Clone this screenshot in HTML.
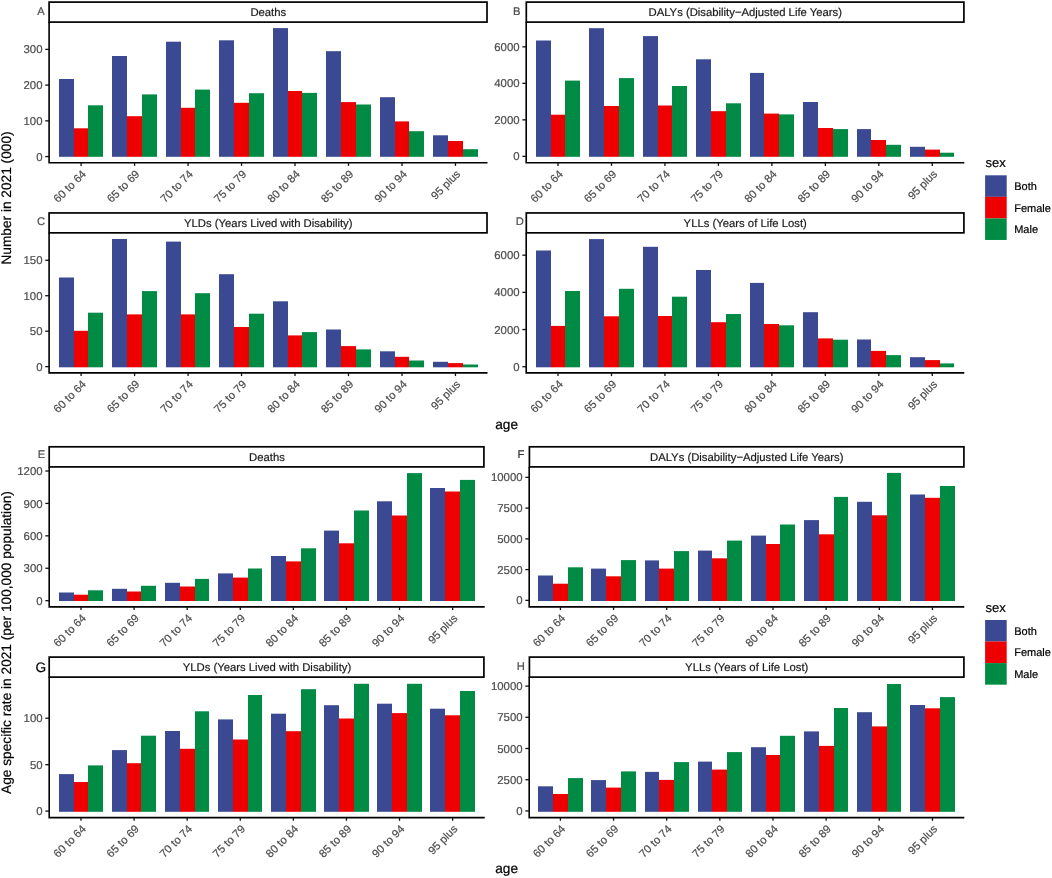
<!DOCTYPE html>
<html><head><meta charset="utf-8"><title>Age-specific burden chart</title>
<style>
html,body{margin:0;padding:0;background:#fff;}
body{width:1052px;height:878px;overflow:hidden;}
svg{display:block;will-change:transform;text-rendering:geometricPrecision;font-family:"Liberation Sans",sans-serif;}
</style></head><body>
<svg width="1052" height="878" viewBox="0 0 1052 878">
<rect width="1052" height="878" fill="#fff"/>
<rect x="59" y="79" width="15" height="77.8" fill="#3B4992"/>
<rect x="74" y="128.3" width="14" height="28.5" fill="#EE0000"/>
<rect x="88" y="105.3" width="15" height="51.5" fill="#008B45"/>
<rect x="112" y="56" width="15" height="100.8" fill="#3B4992"/>
<rect x="127" y="116.2" width="15" height="40.6" fill="#EE0000"/>
<rect x="142" y="94.4" width="15" height="62.4" fill="#008B45"/>
<rect x="166" y="41.7" width="15" height="115.1" fill="#3B4992"/>
<rect x="181" y="107.8" width="14" height="49" fill="#EE0000"/>
<rect x="195" y="89.6" width="15" height="67.2" fill="#008B45"/>
<rect x="219" y="40.3" width="15" height="116.5" fill="#3B4992"/>
<rect x="234" y="102.8" width="15" height="54" fill="#EE0000"/>
<rect x="249" y="93.2" width="15" height="63.6" fill="#008B45"/>
<rect x="273" y="28.1" width="15" height="128.7" fill="#3B4992"/>
<rect x="288" y="91" width="14" height="65.8" fill="#EE0000"/>
<rect x="302" y="92.9" width="15" height="63.9" fill="#008B45"/>
<rect x="326" y="51.2" width="15" height="105.6" fill="#3B4992"/>
<rect x="341" y="102.1" width="15" height="54.7" fill="#EE0000"/>
<rect x="356" y="104.5" width="15" height="52.3" fill="#008B45"/>
<rect x="380" y="97.2" width="15" height="59.6" fill="#3B4992"/>
<rect x="395" y="121.4" width="14" height="35.4" fill="#EE0000"/>
<rect x="409" y="131.2" width="15" height="25.6" fill="#008B45"/>
<rect x="433" y="135.3" width="15" height="21.5" fill="#3B4992"/>
<rect x="448" y="141" width="15" height="15.8" fill="#EE0000"/>
<rect x="463" y="149.2" width="15" height="7.6" fill="#008B45"/>
<rect x="49.1" y="2.1" width="437.9" height="20" fill="#fff" stroke="#000" stroke-width="1.7"/>
<text x="268.3" y="15.85" font-size="11.3" fill="#1A1A1A" stroke="#1A1A1A" stroke-width="0.2" text-anchor="middle">Deaths</text>
<text x="41.05" y="15.4" font-size="11.2" fill="#4D4D4D" stroke="#4D4D4D" stroke-width="0.2" text-anchor="middle">A</text>
<path d="M49.1 22.1V162.7H487.5" fill="none" stroke="#000" stroke-width="1.6" stroke-linecap="butt" stroke-linejoin="miter"/>
<path d="M45.25 156.57H49.1" stroke="#111" stroke-width="1.3"/>
<text x="42.5" y="160.65" font-size="11.4" fill="#4D4D4D" stroke="#4D4D4D" stroke-width="0.2" text-anchor="end">0</text>
<path d="M45.25 120.84H49.1" stroke="#111" stroke-width="1.3"/>
<text x="42.5" y="124.92" font-size="11.4" fill="#4D4D4D" stroke="#4D4D4D" stroke-width="0.2" text-anchor="end">100</text>
<path d="M45.25 85.11H49.1" stroke="#111" stroke-width="1.3"/>
<text x="42.5" y="89.19" font-size="11.4" fill="#4D4D4D" stroke="#4D4D4D" stroke-width="0.2" text-anchor="end">200</text>
<path d="M45.25 49.38H49.1" stroke="#111" stroke-width="1.3"/>
<text x="42.5" y="53.46" font-size="11.4" fill="#4D4D4D" stroke="#4D4D4D" stroke-width="0.2" text-anchor="end">300</text>
<path d="M81.1 162.7V165.9" stroke="#111" stroke-width="1.3"/>
<text transform="translate(86.7 174.75) rotate(-45)" font-size="11.2" fill="#4D4D4D" stroke="#4D4D4D" stroke-width="0.2" text-anchor="end">60 to 64</text>
<path d="M134.58 162.7V165.9" stroke="#111" stroke-width="1.3"/>
<text transform="translate(140.18 174.75) rotate(-45)" font-size="11.2" fill="#4D4D4D" stroke="#4D4D4D" stroke-width="0.2" text-anchor="end">65 to 69</text>
<path d="M188.06 162.7V165.9" stroke="#111" stroke-width="1.3"/>
<text transform="translate(193.66 174.75) rotate(-45)" font-size="11.2" fill="#4D4D4D" stroke="#4D4D4D" stroke-width="0.2" text-anchor="end">70 to 74</text>
<path d="M241.54 162.7V165.9" stroke="#111" stroke-width="1.3"/>
<text transform="translate(247.14 174.75) rotate(-45)" font-size="11.2" fill="#4D4D4D" stroke="#4D4D4D" stroke-width="0.2" text-anchor="end">75 to 79</text>
<path d="M295.02 162.7V165.9" stroke="#111" stroke-width="1.3"/>
<text transform="translate(300.62 174.75) rotate(-45)" font-size="11.2" fill="#4D4D4D" stroke="#4D4D4D" stroke-width="0.2" text-anchor="end">80 to 84</text>
<path d="M348.5 162.7V165.9" stroke="#111" stroke-width="1.3"/>
<text transform="translate(354.1 174.75) rotate(-45)" font-size="11.2" fill="#4D4D4D" stroke="#4D4D4D" stroke-width="0.2" text-anchor="end">85 to 89</text>
<path d="M401.98 162.7V165.9" stroke="#111" stroke-width="1.3"/>
<text transform="translate(407.58 174.75) rotate(-45)" font-size="11.2" fill="#4D4D4D" stroke="#4D4D4D" stroke-width="0.2" text-anchor="end">90 to 94</text>
<path d="M455.46 162.7V165.9" stroke="#111" stroke-width="1.3"/>
<text transform="translate(461.06 174.75) rotate(-45)" font-size="11.2" fill="#4D4D4D" stroke="#4D4D4D" stroke-width="0.2" text-anchor="end">95 plus</text>
<rect x="536" y="40.5" width="15" height="116.3" fill="#3B4992"/>
<rect x="551" y="114.7" width="14" height="42.1" fill="#EE0000"/>
<rect x="565" y="80.6" width="15" height="76.2" fill="#008B45"/>
<rect x="589" y="28.2" width="15" height="128.6" fill="#3B4992"/>
<rect x="604" y="106" width="15" height="50.8" fill="#EE0000"/>
<rect x="619" y="78.1" width="15" height="78.7" fill="#008B45"/>
<rect x="643" y="36.1" width="15" height="120.7" fill="#3B4992"/>
<rect x="658" y="105.5" width="14" height="51.3" fill="#EE0000"/>
<rect x="672" y="86" width="15" height="70.8" fill="#008B45"/>
<rect x="696" y="59.3" width="15" height="97.5" fill="#3B4992"/>
<rect x="711" y="111.2" width="15" height="45.6" fill="#EE0000"/>
<rect x="726" y="103.3" width="15" height="53.5" fill="#008B45"/>
<rect x="750" y="72.9" width="14" height="83.9" fill="#3B4992"/>
<rect x="764" y="113.6" width="15" height="43.2" fill="#EE0000"/>
<rect x="779" y="114.4" width="15" height="42.4" fill="#008B45"/>
<rect x="803" y="102" width="15" height="54.8" fill="#3B4992"/>
<rect x="818" y="128" width="15" height="28.8" fill="#EE0000"/>
<rect x="833" y="129.1" width="15" height="27.7" fill="#008B45"/>
<rect x="857" y="129.1" width="14" height="27.7" fill="#3B4992"/>
<rect x="871" y="140" width="15" height="16.8" fill="#EE0000"/>
<rect x="886" y="144.8" width="15" height="12" fill="#008B45"/>
<rect x="910" y="146.8" width="15" height="10" fill="#3B4992"/>
<rect x="925" y="149.6" width="15" height="7.2" fill="#EE0000"/>
<rect x="940" y="152.7" width="14" height="4.1" fill="#008B45"/>
<rect x="526.3" y="2.1" width="437.6" height="20" fill="#fff" stroke="#000" stroke-width="1.7"/>
<text x="745.25" y="15.85" font-size="11.3" fill="#1A1A1A" stroke="#1A1A1A" stroke-width="0.2" text-anchor="middle">DALYs (Disability−Adjusted Life Years)</text>
<text x="516.7" y="14.6" font-size="11.2" fill="#4D4D4D" stroke="#4D4D4D" stroke-width="0.2" text-anchor="middle">B</text>
<path d="M526.2 22.1V162.7H964.3" fill="none" stroke="#000" stroke-width="1.6" stroke-linecap="butt" stroke-linejoin="miter"/>
<path d="M522.35 156.38H526.2" stroke="#111" stroke-width="1.3"/>
<text x="519.6" y="160.46" font-size="11.4" fill="#4D4D4D" stroke="#4D4D4D" stroke-width="0.2" text-anchor="end">0</text>
<path d="M522.35 119.86H526.2" stroke="#111" stroke-width="1.3"/>
<text x="519.6" y="123.94" font-size="11.4" fill="#4D4D4D" stroke="#4D4D4D" stroke-width="0.2" text-anchor="end">2000</text>
<path d="M522.35 83.34H526.2" stroke="#111" stroke-width="1.3"/>
<text x="519.6" y="87.42" font-size="11.4" fill="#4D4D4D" stroke="#4D4D4D" stroke-width="0.2" text-anchor="end">4000</text>
<path d="M522.35 46.82H526.2" stroke="#111" stroke-width="1.3"/>
<text x="519.6" y="50.9" font-size="11.4" fill="#4D4D4D" stroke="#4D4D4D" stroke-width="0.2" text-anchor="end">6000</text>
<path d="M558 162.7V165.9" stroke="#111" stroke-width="1.3"/>
<text transform="translate(563.6 174.75) rotate(-45)" font-size="11.2" fill="#4D4D4D" stroke="#4D4D4D" stroke-width="0.2" text-anchor="end">60 to 64</text>
<path d="M611.47 162.7V165.9" stroke="#111" stroke-width="1.3"/>
<text transform="translate(617.07 174.75) rotate(-45)" font-size="11.2" fill="#4D4D4D" stroke="#4D4D4D" stroke-width="0.2" text-anchor="end">65 to 69</text>
<path d="M664.94 162.7V165.9" stroke="#111" stroke-width="1.3"/>
<text transform="translate(670.54 174.75) rotate(-45)" font-size="11.2" fill="#4D4D4D" stroke="#4D4D4D" stroke-width="0.2" text-anchor="end">70 to 74</text>
<path d="M718.41 162.7V165.9" stroke="#111" stroke-width="1.3"/>
<text transform="translate(724.01 174.75) rotate(-45)" font-size="11.2" fill="#4D4D4D" stroke="#4D4D4D" stroke-width="0.2" text-anchor="end">75 to 79</text>
<path d="M771.88 162.7V165.9" stroke="#111" stroke-width="1.3"/>
<text transform="translate(777.48 174.75) rotate(-45)" font-size="11.2" fill="#4D4D4D" stroke="#4D4D4D" stroke-width="0.2" text-anchor="end">80 to 84</text>
<path d="M825.35 162.7V165.9" stroke="#111" stroke-width="1.3"/>
<text transform="translate(830.95 174.75) rotate(-45)" font-size="11.2" fill="#4D4D4D" stroke="#4D4D4D" stroke-width="0.2" text-anchor="end">85 to 89</text>
<path d="M878.82 162.7V165.9" stroke="#111" stroke-width="1.3"/>
<text transform="translate(884.42 174.75) rotate(-45)" font-size="11.2" fill="#4D4D4D" stroke="#4D4D4D" stroke-width="0.2" text-anchor="end">90 to 94</text>
<path d="M932.29 162.7V165.9" stroke="#111" stroke-width="1.3"/>
<text transform="translate(937.89 174.75) rotate(-45)" font-size="11.2" fill="#4D4D4D" stroke="#4D4D4D" stroke-width="0.2" text-anchor="end">95 plus</text>
<rect x="59" y="277.5" width="15" height="89.8" fill="#3B4992"/>
<rect x="74" y="330.8" width="14" height="36.5" fill="#EE0000"/>
<rect x="88" y="312.7" width="15" height="54.6" fill="#008B45"/>
<rect x="112" y="239" width="15" height="128.3" fill="#3B4992"/>
<rect x="127" y="314.4" width="15" height="52.9" fill="#EE0000"/>
<rect x="142" y="291.1" width="15" height="76.2" fill="#008B45"/>
<rect x="166" y="241.6" width="15" height="125.7" fill="#3B4992"/>
<rect x="181" y="314.4" width="14" height="52.9" fill="#EE0000"/>
<rect x="195" y="293.2" width="15" height="74.1" fill="#008B45"/>
<rect x="219" y="274.2" width="15" height="93.1" fill="#3B4992"/>
<rect x="234" y="327" width="15" height="40.3" fill="#EE0000"/>
<rect x="249" y="313.7" width="15" height="53.6" fill="#008B45"/>
<rect x="273" y="301.3" width="15" height="66" fill="#3B4992"/>
<rect x="288" y="335.4" width="14" height="31.9" fill="#EE0000"/>
<rect x="302" y="332.1" width="15" height="35.2" fill="#008B45"/>
<rect x="326" y="329.5" width="15" height="37.8" fill="#3B4992"/>
<rect x="341" y="346.1" width="15" height="21.2" fill="#EE0000"/>
<rect x="356" y="349.4" width="15" height="17.9" fill="#008B45"/>
<rect x="380" y="351.3" width="15" height="16" fill="#3B4992"/>
<rect x="395" y="356.8" width="14" height="10.5" fill="#EE0000"/>
<rect x="409" y="360.5" width="15" height="6.8" fill="#008B45"/>
<rect x="433" y="361.8" width="15" height="5.5" fill="#3B4992"/>
<rect x="448" y="363.1" width="15" height="4.2" fill="#EE0000"/>
<rect x="463" y="364.5" width="15" height="2.8" fill="#008B45"/>
<rect x="49.1" y="212.95" width="437.9" height="19.9" fill="#fff" stroke="#000" stroke-width="1.7"/>
<text x="268.3" y="226.7" font-size="11.3" fill="#1A1A1A" stroke="#1A1A1A" stroke-width="0.2" text-anchor="middle">YLDs (Years Lived with Disability)</text>
<text x="40.95" y="225.1" font-size="11.2" fill="#4D4D4D" stroke="#4D4D4D" stroke-width="0.2" text-anchor="middle">C</text>
<path d="M49.1 232.85V372.9H487.5" fill="none" stroke="#000" stroke-width="1.6" stroke-linecap="butt" stroke-linejoin="miter"/>
<path d="M45.25 366.64H49.1" stroke="#111" stroke-width="1.3"/>
<text x="42.5" y="370.72" font-size="11.4" fill="#4D4D4D" stroke="#4D4D4D" stroke-width="0.2" text-anchor="end">0</text>
<path d="M45.25 331.18H49.1" stroke="#111" stroke-width="1.3"/>
<text x="42.5" y="335.26" font-size="11.4" fill="#4D4D4D" stroke="#4D4D4D" stroke-width="0.2" text-anchor="end">50</text>
<path d="M45.25 295.72H49.1" stroke="#111" stroke-width="1.3"/>
<text x="42.5" y="299.8" font-size="11.4" fill="#4D4D4D" stroke="#4D4D4D" stroke-width="0.2" text-anchor="end">100</text>
<path d="M45.25 260.26H49.1" stroke="#111" stroke-width="1.3"/>
<text x="42.5" y="264.34" font-size="11.4" fill="#4D4D4D" stroke="#4D4D4D" stroke-width="0.2" text-anchor="end">150</text>
<path d="M81.1 372.9V376.1" stroke="#111" stroke-width="1.3"/>
<text transform="translate(86.7 384.95) rotate(-45)" font-size="11.2" fill="#4D4D4D" stroke="#4D4D4D" stroke-width="0.2" text-anchor="end">60 to 64</text>
<path d="M134.58 372.9V376.1" stroke="#111" stroke-width="1.3"/>
<text transform="translate(140.18 384.95) rotate(-45)" font-size="11.2" fill="#4D4D4D" stroke="#4D4D4D" stroke-width="0.2" text-anchor="end">65 to 69</text>
<path d="M188.06 372.9V376.1" stroke="#111" stroke-width="1.3"/>
<text transform="translate(193.66 384.95) rotate(-45)" font-size="11.2" fill="#4D4D4D" stroke="#4D4D4D" stroke-width="0.2" text-anchor="end">70 to 74</text>
<path d="M241.54 372.9V376.1" stroke="#111" stroke-width="1.3"/>
<text transform="translate(247.14 384.95) rotate(-45)" font-size="11.2" fill="#4D4D4D" stroke="#4D4D4D" stroke-width="0.2" text-anchor="end">75 to 79</text>
<path d="M295.02 372.9V376.1" stroke="#111" stroke-width="1.3"/>
<text transform="translate(300.62 384.95) rotate(-45)" font-size="11.2" fill="#4D4D4D" stroke="#4D4D4D" stroke-width="0.2" text-anchor="end">80 to 84</text>
<path d="M348.5 372.9V376.1" stroke="#111" stroke-width="1.3"/>
<text transform="translate(354.1 384.95) rotate(-45)" font-size="11.2" fill="#4D4D4D" stroke="#4D4D4D" stroke-width="0.2" text-anchor="end">85 to 89</text>
<path d="M401.98 372.9V376.1" stroke="#111" stroke-width="1.3"/>
<text transform="translate(407.58 384.95) rotate(-45)" font-size="11.2" fill="#4D4D4D" stroke="#4D4D4D" stroke-width="0.2" text-anchor="end">90 to 94</text>
<path d="M455.46 372.9V376.1" stroke="#111" stroke-width="1.3"/>
<text transform="translate(461.06 384.95) rotate(-45)" font-size="11.2" fill="#4D4D4D" stroke="#4D4D4D" stroke-width="0.2" text-anchor="end">95 plus</text>
<rect x="536" y="250.5" width="15" height="116.8" fill="#3B4992"/>
<rect x="551" y="325.9" width="14" height="41.4" fill="#EE0000"/>
<rect x="565" y="291" width="15" height="76.3" fill="#008B45"/>
<rect x="589" y="239.1" width="15" height="128.2" fill="#3B4992"/>
<rect x="604" y="316.3" width="15" height="51" fill="#EE0000"/>
<rect x="619" y="288.8" width="15" height="78.5" fill="#008B45"/>
<rect x="643" y="246.8" width="15" height="120.5" fill="#3B4992"/>
<rect x="658" y="316" width="14" height="51.3" fill="#EE0000"/>
<rect x="672" y="296.7" width="15" height="70.6" fill="#008B45"/>
<rect x="696" y="270" width="15" height="97.3" fill="#3B4992"/>
<rect x="711" y="322.2" width="15" height="45.1" fill="#EE0000"/>
<rect x="726" y="314" width="15" height="53.3" fill="#008B45"/>
<rect x="750" y="282.9" width="14" height="84.4" fill="#3B4992"/>
<rect x="764" y="324" width="15" height="43.3" fill="#EE0000"/>
<rect x="779" y="325.3" width="15" height="42" fill="#008B45"/>
<rect x="803" y="312.2" width="15" height="55.1" fill="#3B4992"/>
<rect x="818" y="338.4" width="15" height="28.9" fill="#EE0000"/>
<rect x="833" y="339.7" width="15" height="27.6" fill="#008B45"/>
<rect x="857" y="339.5" width="14" height="27.8" fill="#3B4992"/>
<rect x="871" y="350.9" width="15" height="16.4" fill="#EE0000"/>
<rect x="886" y="355.1" width="15" height="12.2" fill="#008B45"/>
<rect x="910" y="357.2" width="15" height="10.1" fill="#3B4992"/>
<rect x="925" y="360.1" width="15" height="7.2" fill="#EE0000"/>
<rect x="940" y="363.4" width="14" height="3.9" fill="#008B45"/>
<rect x="526.3" y="212.95" width="437.6" height="19.9" fill="#fff" stroke="#000" stroke-width="1.7"/>
<text x="745.25" y="226.7" font-size="11.3" fill="#1A1A1A" stroke="#1A1A1A" stroke-width="0.2" text-anchor="middle">YLLs (Years of Life Lost)</text>
<text x="519.7" y="225.4" font-size="11.2" fill="#4D4D4D" stroke="#4D4D4D" stroke-width="0.2" text-anchor="middle">D</text>
<path d="M526.2 232.85V372.9H964.3" fill="none" stroke="#000" stroke-width="1.6" stroke-linecap="butt" stroke-linejoin="miter"/>
<path d="M522.35 366.72H526.2" stroke="#111" stroke-width="1.3"/>
<text x="519.6" y="370.8" font-size="11.4" fill="#4D4D4D" stroke="#4D4D4D" stroke-width="0.2" text-anchor="end">0</text>
<path d="M522.35 329.54H526.2" stroke="#111" stroke-width="1.3"/>
<text x="519.6" y="333.62" font-size="11.4" fill="#4D4D4D" stroke="#4D4D4D" stroke-width="0.2" text-anchor="end">2000</text>
<path d="M522.35 292.36H526.2" stroke="#111" stroke-width="1.3"/>
<text x="519.6" y="296.44" font-size="11.4" fill="#4D4D4D" stroke="#4D4D4D" stroke-width="0.2" text-anchor="end">4000</text>
<path d="M522.35 255.18H526.2" stroke="#111" stroke-width="1.3"/>
<text x="519.6" y="259.26" font-size="11.4" fill="#4D4D4D" stroke="#4D4D4D" stroke-width="0.2" text-anchor="end">6000</text>
<path d="M558 372.9V376.1" stroke="#111" stroke-width="1.3"/>
<text transform="translate(563.6 384.95) rotate(-45)" font-size="11.2" fill="#4D4D4D" stroke="#4D4D4D" stroke-width="0.2" text-anchor="end">60 to 64</text>
<path d="M611.47 372.9V376.1" stroke="#111" stroke-width="1.3"/>
<text transform="translate(617.07 384.95) rotate(-45)" font-size="11.2" fill="#4D4D4D" stroke="#4D4D4D" stroke-width="0.2" text-anchor="end">65 to 69</text>
<path d="M664.94 372.9V376.1" stroke="#111" stroke-width="1.3"/>
<text transform="translate(670.54 384.95) rotate(-45)" font-size="11.2" fill="#4D4D4D" stroke="#4D4D4D" stroke-width="0.2" text-anchor="end">70 to 74</text>
<path d="M718.41 372.9V376.1" stroke="#111" stroke-width="1.3"/>
<text transform="translate(724.01 384.95) rotate(-45)" font-size="11.2" fill="#4D4D4D" stroke="#4D4D4D" stroke-width="0.2" text-anchor="end">75 to 79</text>
<path d="M771.88 372.9V376.1" stroke="#111" stroke-width="1.3"/>
<text transform="translate(777.48 384.95) rotate(-45)" font-size="11.2" fill="#4D4D4D" stroke="#4D4D4D" stroke-width="0.2" text-anchor="end">80 to 84</text>
<path d="M825.35 372.9V376.1" stroke="#111" stroke-width="1.3"/>
<text transform="translate(830.95 384.95) rotate(-45)" font-size="11.2" fill="#4D4D4D" stroke="#4D4D4D" stroke-width="0.2" text-anchor="end">85 to 89</text>
<path d="M878.82 372.9V376.1" stroke="#111" stroke-width="1.3"/>
<text transform="translate(884.42 384.95) rotate(-45)" font-size="11.2" fill="#4D4D4D" stroke="#4D4D4D" stroke-width="0.2" text-anchor="end">90 to 94</text>
<path d="M932.29 372.9V376.1" stroke="#111" stroke-width="1.3"/>
<text transform="translate(937.89 384.95) rotate(-45)" font-size="11.2" fill="#4D4D4D" stroke="#4D4D4D" stroke-width="0.2" text-anchor="end">95 plus</text>
<rect x="59" y="592.5" width="15" height="8.5" fill="#3B4992"/>
<rect x="74" y="594.7" width="14" height="6.3" fill="#EE0000"/>
<rect x="88" y="590.3" width="15" height="10.7" fill="#008B45"/>
<rect x="112" y="588.8" width="15" height="12.2" fill="#3B4992"/>
<rect x="127" y="591.5" width="14" height="9.5" fill="#EE0000"/>
<rect x="141" y="585.8" width="15" height="15.2" fill="#008B45"/>
<rect x="165" y="582.8" width="15" height="18.2" fill="#3B4992"/>
<rect x="180" y="586.5" width="15" height="14.5" fill="#EE0000"/>
<rect x="195" y="578.9" width="14" height="22.1" fill="#008B45"/>
<rect x="218" y="573.4" width="15" height="27.6" fill="#3B4992"/>
<rect x="233" y="577.6" width="15" height="23.4" fill="#EE0000"/>
<rect x="248" y="568.5" width="14" height="32.5" fill="#008B45"/>
<rect x="271" y="556" width="15" height="45" fill="#3B4992"/>
<rect x="286" y="561.4" width="15" height="39.6" fill="#EE0000"/>
<rect x="301" y="548.3" width="15" height="52.7" fill="#008B45"/>
<rect x="324" y="530.6" width="15" height="70.4" fill="#3B4992"/>
<rect x="339" y="543.3" width="15" height="57.7" fill="#EE0000"/>
<rect x="354" y="510.5" width="15" height="90.5" fill="#008B45"/>
<rect x="377" y="501.3" width="15" height="99.7" fill="#3B4992"/>
<rect x="392" y="515.5" width="15" height="85.5" fill="#EE0000"/>
<rect x="407" y="473.1" width="15" height="127.9" fill="#008B45"/>
<rect x="430" y="488" width="15" height="113" fill="#3B4992"/>
<rect x="445" y="491.5" width="15" height="109.5" fill="#EE0000"/>
<rect x="460" y="479.9" width="15" height="121.1" fill="#008B45"/>
<rect x="49.2" y="446.8" width="434.7" height="20.1" fill="#fff" stroke="#000" stroke-width="1.7"/>
<text x="266.95" y="460.55" font-size="11.3" fill="#1A1A1A" stroke="#1A1A1A" stroke-width="0.2" text-anchor="middle">Deaths</text>
<text x="41.6" y="457.6" font-size="11.2" fill="#4D4D4D" stroke="#4D4D4D" stroke-width="0.2" text-anchor="middle">E</text>
<path d="M49.2 466.9V606.9H484.7" fill="none" stroke="#000" stroke-width="1.6" stroke-linecap="butt" stroke-linejoin="miter"/>
<path d="M45.35 600.68H49.2" stroke="#111" stroke-width="1.3"/>
<text x="42.6" y="604.76" font-size="11.4" fill="#4D4D4D" stroke="#4D4D4D" stroke-width="0.2" text-anchor="end">0</text>
<path d="M45.35 568.26H49.2" stroke="#111" stroke-width="1.3"/>
<text x="42.6" y="572.34" font-size="11.4" fill="#4D4D4D" stroke="#4D4D4D" stroke-width="0.2" text-anchor="end">300</text>
<path d="M45.35 535.84H49.2" stroke="#111" stroke-width="1.3"/>
<text x="42.6" y="539.92" font-size="11.4" fill="#4D4D4D" stroke="#4D4D4D" stroke-width="0.2" text-anchor="end">600</text>
<path d="M45.35 503.42H49.2" stroke="#111" stroke-width="1.3"/>
<text x="42.6" y="507.5" font-size="11.4" fill="#4D4D4D" stroke="#4D4D4D" stroke-width="0.2" text-anchor="end">900</text>
<path d="M45.35 471H49.2" stroke="#111" stroke-width="1.3"/>
<text x="42.6" y="475.08" font-size="11.4" fill="#4D4D4D" stroke="#4D4D4D" stroke-width="0.2" text-anchor="end">1200</text>
<path d="M81 606.9V610.1" stroke="#111" stroke-width="1.3"/>
<text transform="translate(86.6 618.95) rotate(-45)" font-size="11.2" fill="#4D4D4D" stroke="#4D4D4D" stroke-width="0.2" text-anchor="end">60 to 64</text>
<path d="M134.09 606.9V610.1" stroke="#111" stroke-width="1.3"/>
<text transform="translate(139.69 618.95) rotate(-45)" font-size="11.2" fill="#4D4D4D" stroke="#4D4D4D" stroke-width="0.2" text-anchor="end">65 to 69</text>
<path d="M187.18 606.9V610.1" stroke="#111" stroke-width="1.3"/>
<text transform="translate(192.78 618.95) rotate(-45)" font-size="11.2" fill="#4D4D4D" stroke="#4D4D4D" stroke-width="0.2" text-anchor="end">70 to 74</text>
<path d="M240.27 606.9V610.1" stroke="#111" stroke-width="1.3"/>
<text transform="translate(245.87 618.95) rotate(-45)" font-size="11.2" fill="#4D4D4D" stroke="#4D4D4D" stroke-width="0.2" text-anchor="end">75 to 79</text>
<path d="M293.36 606.9V610.1" stroke="#111" stroke-width="1.3"/>
<text transform="translate(298.96 618.95) rotate(-45)" font-size="11.2" fill="#4D4D4D" stroke="#4D4D4D" stroke-width="0.2" text-anchor="end">80 to 84</text>
<path d="M346.45 606.9V610.1" stroke="#111" stroke-width="1.3"/>
<text transform="translate(352.05 618.95) rotate(-45)" font-size="11.2" fill="#4D4D4D" stroke="#4D4D4D" stroke-width="0.2" text-anchor="end">85 to 89</text>
<path d="M399.54 606.9V610.1" stroke="#111" stroke-width="1.3"/>
<text transform="translate(405.14 618.95) rotate(-45)" font-size="11.2" fill="#4D4D4D" stroke="#4D4D4D" stroke-width="0.2" text-anchor="end">90 to 94</text>
<path d="M452.63 606.9V610.1" stroke="#111" stroke-width="1.3"/>
<text transform="translate(458.23 618.95) rotate(-45)" font-size="11.2" fill="#4D4D4D" stroke="#4D4D4D" stroke-width="0.2" text-anchor="end">95 plus</text>
<rect x="538" y="575.5" width="15" height="25.5" fill="#3B4992"/>
<rect x="553" y="583.7" width="15" height="17.3" fill="#EE0000"/>
<rect x="568" y="567.3" width="15" height="33.7" fill="#008B45"/>
<rect x="591" y="568.6" width="15" height="32.4" fill="#3B4992"/>
<rect x="606" y="576.3" width="15" height="24.7" fill="#EE0000"/>
<rect x="621" y="560.1" width="15" height="40.9" fill="#008B45"/>
<rect x="645" y="560.4" width="14" height="40.6" fill="#3B4992"/>
<rect x="659" y="568.6" width="15" height="32.4" fill="#EE0000"/>
<rect x="674" y="551.1" width="15" height="49.9" fill="#008B45"/>
<rect x="698" y="550.6" width="14" height="50.4" fill="#3B4992"/>
<rect x="712" y="558.3" width="15" height="42.7" fill="#EE0000"/>
<rect x="727" y="540.6" width="15" height="60.4" fill="#008B45"/>
<rect x="751" y="535.6" width="15" height="65.4" fill="#3B4992"/>
<rect x="766" y="544" width="14" height="57" fill="#EE0000"/>
<rect x="780" y="524.5" width="15" height="76.5" fill="#008B45"/>
<rect x="804" y="520.1" width="15" height="80.9" fill="#3B4992"/>
<rect x="819" y="534.3" width="15" height="66.7" fill="#EE0000"/>
<rect x="834" y="496.9" width="14" height="104.1" fill="#008B45"/>
<rect x="857" y="501.8" width="15" height="99.2" fill="#3B4992"/>
<rect x="872" y="515.3" width="15" height="85.7" fill="#EE0000"/>
<rect x="887" y="472.9" width="14" height="128.1" fill="#008B45"/>
<rect x="910" y="494.5" width="15" height="106.5" fill="#3B4992"/>
<rect x="925" y="497.8" width="15" height="103.2" fill="#EE0000"/>
<rect x="940" y="486" width="15" height="115" fill="#008B45"/>
<rect x="529.4" y="446.8" width="434.5" height="20.1" fill="#fff" stroke="#000" stroke-width="1.7"/>
<text x="746.75" y="460.55" font-size="11.3" fill="#1A1A1A" stroke="#1A1A1A" stroke-width="0.2" text-anchor="middle">DALYs (Disability−Adjusted Life Years)</text>
<text x="521" y="458.4" font-size="11.2" fill="#333" stroke="#333" stroke-width="0.2" text-anchor="middle">F</text>
<path d="M529.2 466.9V606.9H964.3" fill="none" stroke="#000" stroke-width="1.6" stroke-linecap="butt" stroke-linejoin="miter"/>
<path d="M525.35 600.34H529.2" stroke="#111" stroke-width="1.3"/>
<text x="522.6" y="604.42" font-size="11.4" fill="#4D4D4D" stroke="#4D4D4D" stroke-width="0.2" text-anchor="end">0</text>
<path d="M525.35 569.6H529.2" stroke="#111" stroke-width="1.3"/>
<text x="522.6" y="573.68" font-size="11.4" fill="#4D4D4D" stroke="#4D4D4D" stroke-width="0.2" text-anchor="end">2500</text>
<path d="M525.35 538.86H529.2" stroke="#111" stroke-width="1.3"/>
<text x="522.6" y="542.94" font-size="11.4" fill="#4D4D4D" stroke="#4D4D4D" stroke-width="0.2" text-anchor="end">5000</text>
<path d="M525.35 508.12H529.2" stroke="#111" stroke-width="1.3"/>
<text x="522.6" y="512.2" font-size="11.4" fill="#4D4D4D" stroke="#4D4D4D" stroke-width="0.2" text-anchor="end">7500</text>
<path d="M525.35 477.38H529.2" stroke="#111" stroke-width="1.3"/>
<text x="522.6" y="481.46" font-size="11.4" fill="#4D4D4D" stroke="#4D4D4D" stroke-width="0.2" text-anchor="end">10000</text>
<path d="M560.4 606.9V610.1" stroke="#111" stroke-width="1.3"/>
<text transform="translate(566 618.95) rotate(-45)" font-size="11.2" fill="#4D4D4D" stroke="#4D4D4D" stroke-width="0.2" text-anchor="end">60 to 64</text>
<path d="M613.55 606.9V610.1" stroke="#111" stroke-width="1.3"/>
<text transform="translate(619.15 618.95) rotate(-45)" font-size="11.2" fill="#4D4D4D" stroke="#4D4D4D" stroke-width="0.2" text-anchor="end">65 to 69</text>
<path d="M666.7 606.9V610.1" stroke="#111" stroke-width="1.3"/>
<text transform="translate(672.3 618.95) rotate(-45)" font-size="11.2" fill="#4D4D4D" stroke="#4D4D4D" stroke-width="0.2" text-anchor="end">70 to 74</text>
<path d="M719.85 606.9V610.1" stroke="#111" stroke-width="1.3"/>
<text transform="translate(725.45 618.95) rotate(-45)" font-size="11.2" fill="#4D4D4D" stroke="#4D4D4D" stroke-width="0.2" text-anchor="end">75 to 79</text>
<path d="M773 606.9V610.1" stroke="#111" stroke-width="1.3"/>
<text transform="translate(778.6 618.95) rotate(-45)" font-size="11.2" fill="#4D4D4D" stroke="#4D4D4D" stroke-width="0.2" text-anchor="end">80 to 84</text>
<path d="M826.15 606.9V610.1" stroke="#111" stroke-width="1.3"/>
<text transform="translate(831.75 618.95) rotate(-45)" font-size="11.2" fill="#4D4D4D" stroke="#4D4D4D" stroke-width="0.2" text-anchor="end">85 to 89</text>
<path d="M879.3 606.9V610.1" stroke="#111" stroke-width="1.3"/>
<text transform="translate(884.9 618.95) rotate(-45)" font-size="11.2" fill="#4D4D4D" stroke="#4D4D4D" stroke-width="0.2" text-anchor="end">90 to 94</text>
<path d="M932.45 606.9V610.1" stroke="#111" stroke-width="1.3"/>
<text transform="translate(938.05 618.95) rotate(-45)" font-size="11.2" fill="#4D4D4D" stroke="#4D4D4D" stroke-width="0.2" text-anchor="end">95 plus</text>
<rect x="59" y="774.1" width="15" height="37.7" fill="#3B4992"/>
<rect x="74" y="782" width="14" height="29.8" fill="#EE0000"/>
<rect x="88" y="765.4" width="15" height="46.4" fill="#008B45"/>
<rect x="112" y="750.1" width="15" height="61.7" fill="#3B4992"/>
<rect x="127" y="763.2" width="14" height="48.6" fill="#EE0000"/>
<rect x="141" y="735.7" width="15" height="76.1" fill="#008B45"/>
<rect x="165" y="731" width="15" height="80.8" fill="#3B4992"/>
<rect x="180" y="748.8" width="15" height="63" fill="#EE0000"/>
<rect x="195" y="711.3" width="14" height="100.5" fill="#008B45"/>
<rect x="218" y="719.4" width="15" height="92.4" fill="#3B4992"/>
<rect x="233" y="739.5" width="15" height="72.3" fill="#EE0000"/>
<rect x="248" y="695" width="14" height="116.8" fill="#008B45"/>
<rect x="271" y="713.7" width="15" height="98.1" fill="#3B4992"/>
<rect x="286" y="731.2" width="15" height="80.6" fill="#EE0000"/>
<rect x="301" y="689.2" width="15" height="122.6" fill="#008B45"/>
<rect x="324" y="705.2" width="15" height="106.6" fill="#3B4992"/>
<rect x="339" y="718.5" width="15" height="93.3" fill="#EE0000"/>
<rect x="354" y="683.8" width="15" height="128" fill="#008B45"/>
<rect x="377" y="703.7" width="15" height="108.1" fill="#3B4992"/>
<rect x="392" y="713.1" width="15" height="98.7" fill="#EE0000"/>
<rect x="407" y="683.8" width="15" height="128" fill="#008B45"/>
<rect x="430" y="708.7" width="15" height="103.1" fill="#3B4992"/>
<rect x="445" y="715.3" width="15" height="96.5" fill="#EE0000"/>
<rect x="460" y="691" width="15" height="120.8" fill="#008B45"/>
<rect x="49.2" y="657.1" width="434.7" height="20" fill="#fff" stroke="#000" stroke-width="1.7"/>
<text x="266.95" y="670.85" font-size="11.3" fill="#1A1A1A" stroke="#1A1A1A" stroke-width="0.2" text-anchor="middle">YLDs (Years Lived with Disability)</text>
<text x="40.9" y="672.4" font-size="13.7" fill="#000" stroke="#000" stroke-width="0.2" text-anchor="middle">G</text>
<path d="M49.2 677.1V817.6H484.7" fill="none" stroke="#000" stroke-width="1.6" stroke-linecap="butt" stroke-linejoin="miter"/>
<path d="M45.35 811.12H49.2" stroke="#111" stroke-width="1.3"/>
<text x="42.6" y="815.2" font-size="11.4" fill="#4D4D4D" stroke="#4D4D4D" stroke-width="0.2" text-anchor="end">0</text>
<path d="M45.35 764.67H49.2" stroke="#111" stroke-width="1.3"/>
<text x="42.6" y="768.75" font-size="11.4" fill="#4D4D4D" stroke="#4D4D4D" stroke-width="0.2" text-anchor="end">50</text>
<path d="M45.35 718.22H49.2" stroke="#111" stroke-width="1.3"/>
<text x="42.6" y="722.3" font-size="11.4" fill="#4D4D4D" stroke="#4D4D4D" stroke-width="0.2" text-anchor="end">100</text>
<path d="M81 817.6V820.8" stroke="#111" stroke-width="1.3"/>
<text transform="translate(86.6 829.65) rotate(-45)" font-size="11.2" fill="#4D4D4D" stroke="#4D4D4D" stroke-width="0.2" text-anchor="end">60 to 64</text>
<path d="M134.09 817.6V820.8" stroke="#111" stroke-width="1.3"/>
<text transform="translate(139.69 829.65) rotate(-45)" font-size="11.2" fill="#4D4D4D" stroke="#4D4D4D" stroke-width="0.2" text-anchor="end">65 to 69</text>
<path d="M187.18 817.6V820.8" stroke="#111" stroke-width="1.3"/>
<text transform="translate(192.78 829.65) rotate(-45)" font-size="11.2" fill="#4D4D4D" stroke="#4D4D4D" stroke-width="0.2" text-anchor="end">70 to 74</text>
<path d="M240.27 817.6V820.8" stroke="#111" stroke-width="1.3"/>
<text transform="translate(245.87 829.65) rotate(-45)" font-size="11.2" fill="#4D4D4D" stroke="#4D4D4D" stroke-width="0.2" text-anchor="end">75 to 79</text>
<path d="M293.36 817.6V820.8" stroke="#111" stroke-width="1.3"/>
<text transform="translate(298.96 829.65) rotate(-45)" font-size="11.2" fill="#4D4D4D" stroke="#4D4D4D" stroke-width="0.2" text-anchor="end">80 to 84</text>
<path d="M346.45 817.6V820.8" stroke="#111" stroke-width="1.3"/>
<text transform="translate(352.05 829.65) rotate(-45)" font-size="11.2" fill="#4D4D4D" stroke="#4D4D4D" stroke-width="0.2" text-anchor="end">85 to 89</text>
<path d="M399.54 817.6V820.8" stroke="#111" stroke-width="1.3"/>
<text transform="translate(405.14 829.65) rotate(-45)" font-size="11.2" fill="#4D4D4D" stroke="#4D4D4D" stroke-width="0.2" text-anchor="end">90 to 94</text>
<path d="M452.63 817.6V820.8" stroke="#111" stroke-width="1.3"/>
<text transform="translate(458.23 829.65) rotate(-45)" font-size="11.2" fill="#4D4D4D" stroke="#4D4D4D" stroke-width="0.2" text-anchor="end">95 plus</text>
<rect x="538" y="786.3" width="15" height="25.5" fill="#3B4992"/>
<rect x="553" y="794" width="15" height="17.8" fill="#EE0000"/>
<rect x="568" y="778.1" width="15" height="33.7" fill="#008B45"/>
<rect x="591" y="780.1" width="15" height="31.7" fill="#3B4992"/>
<rect x="606" y="787.6" width="15" height="24.2" fill="#EE0000"/>
<rect x="621" y="771.4" width="15" height="40.4" fill="#008B45"/>
<rect x="645" y="771.9" width="14" height="39.9" fill="#3B4992"/>
<rect x="659" y="779.9" width="15" height="31.9" fill="#EE0000"/>
<rect x="674" y="762.1" width="15" height="49.7" fill="#008B45"/>
<rect x="698" y="761.6" width="14" height="50.2" fill="#3B4992"/>
<rect x="712" y="769.6" width="15" height="42.2" fill="#EE0000"/>
<rect x="727" y="752.1" width="15" height="59.7" fill="#008B45"/>
<rect x="751" y="747.2" width="15" height="64.6" fill="#3B4992"/>
<rect x="766" y="755" width="14" height="56.8" fill="#EE0000"/>
<rect x="780" y="735.8" width="15" height="76" fill="#008B45"/>
<rect x="804" y="731.4" width="15" height="80.4" fill="#3B4992"/>
<rect x="819" y="745.9" width="15" height="65.9" fill="#EE0000"/>
<rect x="834" y="708" width="14" height="103.8" fill="#008B45"/>
<rect x="857" y="712.2" width="15" height="99.6" fill="#3B4992"/>
<rect x="872" y="726.4" width="15" height="85.4" fill="#EE0000"/>
<rect x="887" y="684" width="14" height="127.8" fill="#008B45"/>
<rect x="910" y="705" width="15" height="106.8" fill="#3B4992"/>
<rect x="925" y="708.3" width="15" height="103.5" fill="#EE0000"/>
<rect x="940" y="697.1" width="15" height="114.7" fill="#008B45"/>
<rect x="529.4" y="657.1" width="434.5" height="20" fill="#fff" stroke="#000" stroke-width="1.7"/>
<text x="746.75" y="670.85" font-size="11.3" fill="#1A1A1A" stroke="#1A1A1A" stroke-width="0.2" text-anchor="middle">YLLs (Years of Life Lost)</text>
<text x="520.8" y="670.2" font-size="11.2" fill="#4D4D4D" stroke="#4D4D4D" stroke-width="0.2" text-anchor="middle">H</text>
<path d="M529.2 677.1V817.6H964.3" fill="none" stroke="#000" stroke-width="1.6" stroke-linecap="butt" stroke-linejoin="miter"/>
<path d="M525.35 810.92H529.2" stroke="#111" stroke-width="1.3"/>
<text x="522.6" y="815" font-size="11.4" fill="#4D4D4D" stroke="#4D4D4D" stroke-width="0.2" text-anchor="end">0</text>
<path d="M525.35 779.71H529.2" stroke="#111" stroke-width="1.3"/>
<text x="522.6" y="783.79" font-size="11.4" fill="#4D4D4D" stroke="#4D4D4D" stroke-width="0.2" text-anchor="end">2500</text>
<path d="M525.35 748.5H529.2" stroke="#111" stroke-width="1.3"/>
<text x="522.6" y="752.58" font-size="11.4" fill="#4D4D4D" stroke="#4D4D4D" stroke-width="0.2" text-anchor="end">5000</text>
<path d="M525.35 717.29H529.2" stroke="#111" stroke-width="1.3"/>
<text x="522.6" y="721.37" font-size="11.4" fill="#4D4D4D" stroke="#4D4D4D" stroke-width="0.2" text-anchor="end">7500</text>
<path d="M525.35 686.08H529.2" stroke="#111" stroke-width="1.3"/>
<text x="522.6" y="690.16" font-size="11.4" fill="#4D4D4D" stroke="#4D4D4D" stroke-width="0.2" text-anchor="end">10000</text>
<path d="M560.4 817.6V820.8" stroke="#111" stroke-width="1.3"/>
<text transform="translate(566 829.65) rotate(-45)" font-size="11.2" fill="#4D4D4D" stroke="#4D4D4D" stroke-width="0.2" text-anchor="end">60 to 64</text>
<path d="M613.55 817.6V820.8" stroke="#111" stroke-width="1.3"/>
<text transform="translate(619.15 829.65) rotate(-45)" font-size="11.2" fill="#4D4D4D" stroke="#4D4D4D" stroke-width="0.2" text-anchor="end">65 to 69</text>
<path d="M666.7 817.6V820.8" stroke="#111" stroke-width="1.3"/>
<text transform="translate(672.3 829.65) rotate(-45)" font-size="11.2" fill="#4D4D4D" stroke="#4D4D4D" stroke-width="0.2" text-anchor="end">70 to 74</text>
<path d="M719.85 817.6V820.8" stroke="#111" stroke-width="1.3"/>
<text transform="translate(725.45 829.65) rotate(-45)" font-size="11.2" fill="#4D4D4D" stroke="#4D4D4D" stroke-width="0.2" text-anchor="end">75 to 79</text>
<path d="M773 817.6V820.8" stroke="#111" stroke-width="1.3"/>
<text transform="translate(778.6 829.65) rotate(-45)" font-size="11.2" fill="#4D4D4D" stroke="#4D4D4D" stroke-width="0.2" text-anchor="end">80 to 84</text>
<path d="M826.15 817.6V820.8" stroke="#111" stroke-width="1.3"/>
<text transform="translate(831.75 829.65) rotate(-45)" font-size="11.2" fill="#4D4D4D" stroke="#4D4D4D" stroke-width="0.2" text-anchor="end">85 to 89</text>
<path d="M879.3 817.6V820.8" stroke="#111" stroke-width="1.3"/>
<text transform="translate(884.9 829.65) rotate(-45)" font-size="11.2" fill="#4D4D4D" stroke="#4D4D4D" stroke-width="0.2" text-anchor="end">90 to 94</text>
<path d="M932.45 817.6V820.8" stroke="#111" stroke-width="1.3"/>
<text transform="translate(938.05 829.65) rotate(-45)" font-size="11.2" fill="#4D4D4D" stroke="#4D4D4D" stroke-width="0.2" text-anchor="end">95 plus</text>
<text transform="translate(10.9 198) rotate(-90)" font-size="13.7" fill="#000" stroke="#000" stroke-width="0.2" text-anchor="middle">Number in 2021 (000)</text>
<text transform="translate(10.9 642.5) rotate(-90)" font-size="13.7" fill="#000" stroke="#000" stroke-width="0.2" text-anchor="middle">Age specific rate in 2021 (per 100,000 population)</text>
<text x="506.6" y="428.9" font-size="13.7" fill="#000" stroke="#000" stroke-width="0.2" text-anchor="middle">age</text>
<text x="506.6" y="873.1" font-size="13.7" fill="#000" stroke="#000" stroke-width="0.2" text-anchor="middle">age</text>
<text x="985.5" y="167.2" font-size="13.0" fill="#000" stroke="#000" stroke-width="0.2">sex</text>
<rect x="985.1" y="175.3" width="21.6" height="21.57" fill="#3B4992"/>
<text x="1014.2" y="189.98" font-size="11.0" fill="#000" stroke="#000" stroke-width="0.2">Both</text>
<rect x="985.1" y="196.85" width="21.6" height="21.57" fill="#EE0000"/>
<text x="1014.2" y="211.53" font-size="11.0" fill="#000" stroke="#000" stroke-width="0.2">Female</text>
<rect x="985.1" y="218.4" width="21.6" height="21.57" fill="#008B45"/>
<text x="1014.2" y="233.08" font-size="11.0" fill="#000" stroke="#000" stroke-width="0.2">Male</text>
<text x="985.5" y="611.9" font-size="13.0" fill="#000" stroke="#000" stroke-width="0.2">sex</text>
<rect x="985.1" y="620" width="21.6" height="21.57" fill="#3B4992"/>
<text x="1014.2" y="634.67" font-size="11.0" fill="#000" stroke="#000" stroke-width="0.2">Both</text>
<rect x="985.1" y="641.55" width="21.6" height="21.57" fill="#EE0000"/>
<text x="1014.2" y="656.22" font-size="11.0" fill="#000" stroke="#000" stroke-width="0.2">Female</text>
<rect x="985.1" y="663.1" width="21.6" height="21.57" fill="#008B45"/>
<text x="1014.2" y="677.77" font-size="11.0" fill="#000" stroke="#000" stroke-width="0.2">Male</text>
</svg>
</body></html>
